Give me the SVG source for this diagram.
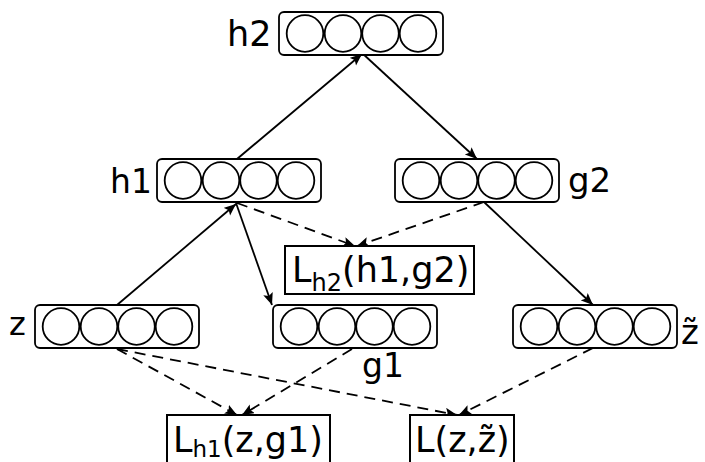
<svg xmlns="http://www.w3.org/2000/svg" width="705" height="462" viewBox="0 0 705 462">
  <style>
    .frame { fill: #fff; stroke: #000; stroke-width: 1.8; }
    .unit { fill: none; stroke: #000; stroke-width: 1.8; }
    .loss { fill: #fff; stroke: #000; stroke-width: 2; }
    .label { font-family: "DejaVu Sans", "Liberation Sans", sans-serif; fill: #000; }
    .edge { fill: none; stroke: #000; stroke-width: 1.8; marker-end: url(#head); }
    .dash { stroke-dasharray: 11 7; }
  </style>
  <defs>
    <marker id="head" markerUnits="userSpaceOnUse" markerWidth="13" markerHeight="11" refX="12" refY="5" orient="auto">
      <path d="M0,0 L12,5 L0,10 L2.5,5 z" fill="#000"/>
    </marker>
    <!-- layer: rounded frame with four units -->
    <g id="layer">
      <rect class="frame" x="0" y="0" width="164" height="43" rx="5"/>
      <circle class="unit" cx="26" cy="21.5" r="18.3"/>
      <circle class="unit" cx="64" cy="21.5" r="18.3"/>
      <circle class="unit" cx="101.5" cy="21.5" r="18.3"/>
      <circle class="unit" cx="139" cy="21.5" r="18.3"/>
    </g>
  </defs>

  <!-- connectors -->
  <g id="connectors">
    <line class="edge" x1="117" y1="305" x2="236" y2="204"/>
    <line class="edge" x1="237" y1="159" x2="362" y2="54"/>
    <line class="edge" x1="362" y1="53" x2="477" y2="159"/>
    <line class="edge" x1="236" y1="203" x2="272" y2="305"/>
    <line class="edge" x1="484" y1="202" x2="593" y2="305"/>
    <line class="edge dash" x1="237" y1="203" x2="355" y2="246"/>
    <line class="edge dash" x1="484" y1="202" x2="357" y2="246"/>
    <line class="edge dash" x1="117" y1="349" x2="237" y2="415"/>
    <line class="edge dash" x1="352" y1="349" x2="242" y2="415"/>
    <line class="edge dash" x1="117" y1="349" x2="457" y2="415"/>
    <line class="edge dash" x1="593" y1="348" x2="459" y2="415"/>
  </g>

  <g id="h2">
    <use href="#layer" x="279" y="12"/>
    <text class="label" x="227" y="46" font-size="35">h2</text>
  </g>
  <g id="h1">
    <use href="#layer" x="157" y="159"/>
    <text class="label" x="110" y="193" font-size="33">h1</text>
  </g>
  <g id="g2">
    <use href="#layer" x="395" y="159"/>
    <text class="label" x="568" y="192" font-size="34">g2</text>
  </g>
  <g id="z">
    <use href="#layer" x="35" y="305"/>
    <text class="label" x="9" y="335" font-size="32">z</text>
  </g>
  <g id="g1">
    <use href="#layer" x="273" y="305"/>
    <text class="label" x="362" y="377" font-size="33">g1</text>
  </g>
  <g id="z-tilde">
    <use href="#layer" x="513" y="305"/>
    <text class="label" x="681" y="344" font-size="34">z̃</text>
  </g>

  <g id="loss-h2">
    <rect class="loss" x="285" y="246" width="189" height="48"/>
    <text class="label" x="292" y="282" font-size="35">L<tspan font-size="24" dy="9">h2</tspan><tspan dy="-9">(h1,g2)</tspan></text>
  </g>
  <g id="loss-h1">
    <rect class="loss" x="167" y="415" width="163" height="60"/>
    <text class="label" x="173" y="452" font-size="35">L<tspan font-size="23" dy="5">h1</tspan><tspan dy="-5">(z,g1)</tspan></text>
  </g>
  <g id="loss-out">
    <rect class="loss" x="410" y="415" width="104" height="60"/>
    <text class="label" x="415" y="452" font-size="35">L(z,z̃)</text>
  </g>
</svg>
